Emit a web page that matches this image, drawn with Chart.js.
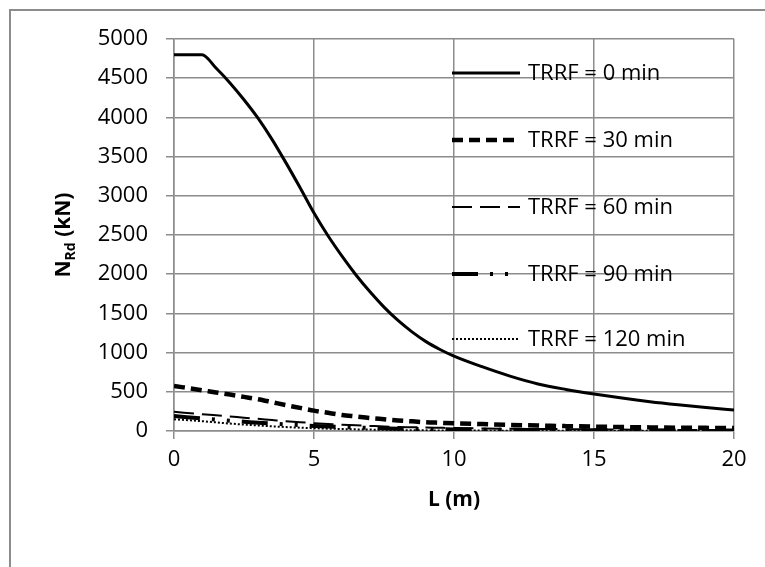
<!DOCTYPE html>
<html>
<head>
<meta charset="utf-8">
<script src="https://cdn.jsdelivr.net/npm/chart.js@4"></script>
<style>
  body { margin: 0; background: #fff; }
  #wrap { position: relative; width: 765px; height: 567px; overflow: hidden; }
  #frame { position: absolute; left: 9px; top: 9px; width: 900px; height: 700px;
           border-left: 2px solid #8c8c8c; border-top: 2px solid #8c8c8c; }
  canvas { position: absolute; left: 0; top: 0; }
</style>
</head>
<body>
<div id="wrap">
  <div id="frame"></div>
  <canvas id="chart" width="765" height="567"></canvas>
</div>
<script>
// column length L (m)
const lengths = [0, 1, 1.5, 2, 2.5, 3, 3.5, 4, 4.5, 5, 5.5, 6, 6.5, 7, 7.5, 8, 8.5, 9, 9.5, 10,
                 11, 12, 13, 14, 15, 16, 17, 18, 19, 20];

// N_Rd (kN) for each fire resistance time
const trrf0   = [4800, 4800, 4630, 4440, 4225, 3990, 3720, 3420, 3105, 2780, 2490, 2230, 1990, 1775, 1580, 1410, 1265, 1140, 1040, 955,
                 820, 700, 600, 530, 472, 420, 374, 335, 300, 268];
const trrf30  = [575, 520, 492, 465, 435, 405, 368, 330, 295, 260, 232, 205, 185, 165, 150, 135, 123, 112, 105, 98,
                 88, 78, 70, 62, 56, 50, 46, 42, 40, 38];
const trrf60  = [245, 215, 200, 185, 170, 155, 140, 125, 112, 100, 90, 80, 72, 65, 58, 52, 48, 44, 41, 38,
                 33, 29, 26, 23, 20, 18, 16, 14, 13, 12];
const trrf90  = [190, 160, 145, 130, 118, 105, 95, 85, 75, 65, 57, 50, 45, 40, 35, 30, 27, 24, 22, 20,
                 17, 15, 13, 11, 10, 8, 7, 6, 5, 5];
const trrf120 = [150, 125, 110, 95, 82, 70, 60, 50, 42, 35, 30, 25, 21, 18, 15, 12, 10, 8, 7, 6,
                 5, 4, 3, 3, 2, 2, 2, 1, 1, 1];

const seriesLabels = ['TRRF = 0 min', 'TRRF = 30 min', 'TRRF = 60 min', 'TRRF = 90 min', 'TRRF = 120 min'];
const seriesValues = [trrf0, trrf30, trrf60, trrf90, trrf120];
const seriesStyles = [
  { width: 3, dash: [] },
  { width: 4.5, dash: [11, 6] },
  { width: 2, dash: [20, 8] },
  { width: 4, dash: [26, 12, 3, 12, 3, 12] },
  { width: 2, dash: [2, 2] }
];

const FONT = '"Open Sans", "Liberation Sans", sans-serif';
const GRID = '#8c8c8c';

const datasets = seriesValues.map((vals, i) => ({
  label: seriesLabels[i],
  data: lengths.map((x, j) => ({ x: x, y: vals[j] })),
  borderColor: '#000',
  borderWidth: seriesStyles[i].width,
  borderDash: seriesStyles[i].dash,
  borderCapStyle: 'butt',
  pointRadius: 0,
  cubicInterpolationMode: 'monotone',
  fill: false
}));

// legend drawn inside the plot area, plus the axis titles with subscript
const extras = {
  id: 'extras',
  afterDatasetsDraw(chart) {
    const ctx = chart.ctx;
    ctx.save();
    const ys = [73, 140, 207, 274, 339];
    chart.data.datasets.forEach((ds, i) => {
      const y = ys[i];
      ctx.beginPath();
      ctx.strokeStyle = '#000';
      ctx.lineWidth = ds.borderWidth;
      ctx.setLineDash(ds.borderDash);
      ctx.lineCap = 'butt';
      ctx.moveTo(452, y);
      ctx.lineTo(520, y);
      ctx.stroke();
      ctx.setLineDash([]);
      ctx.fillStyle = '#000';
      ctx.font = '22px ' + FONT;
      ctx.textBaseline = 'middle';
      ctx.textAlign = 'left';
      ctx.fillText(ds.label, 528, y + 1);
    });

    // x title
    ctx.font = 'bold 21px ' + FONT;
    ctx.textAlign = 'center';
    ctx.textBaseline = 'middle';
    ctx.fillText('L (m)', 454, 500);

    // y title N_Rd (kN)
    ctx.translate(62, 235);
    ctx.rotate(-Math.PI / 2);
    const big = 'bold 21px ' + FONT, small = 'bold 14px ' + FONT;
    ctx.font = big; const wN = ctx.measureText('N').width;
    ctx.font = small; const wRd = ctx.measureText('Rd').width;
    ctx.font = big; const wK = ctx.measureText(' (kN)').width;
    let x = -(wN + wRd + wK) / 2;
    ctx.textAlign = 'left';
    ctx.textBaseline = 'alphabetic';
    ctx.font = big; ctx.fillText('N', x, 8); x += wN;
    ctx.font = small; ctx.fillText('Rd', x, 13); x += wRd;
    ctx.font = big; ctx.fillText(' (kN)', x, 8);
    ctx.restore();
  }
};

new Chart(document.getElementById('chart'), {
  type: 'line',
  data: { datasets: datasets },
  options: {
    responsive: false,
    animation: false,
    layout: { padding: { left: 0, right: 31, top: 39, bottom: 0 } },
    plugins: { legend: { display: false }, tooltip: { enabled: false } },
    scales: {
      x: {
        type: 'linear',
        min: 0, max: 20,
        afterFit: s => { s.height = 136; },
        ticks: { stepSize: 5, color: '#000', font: { family: FONT, size: 22 }, padding: 8,
                 callback: v => String(v) },
        grid: { color: GRID, lineWidth: 1.5, tickLength: 8 },
        border: { color: GRID, width: 1.5 }
      },
      y: {
        min: 0, max: 5000,
        afterFit: s => { s.width = 174; },
        ticks: { stepSize: 500, color: '#000', font: { family: FONT, size: 22 }, padding: 18,
                 callback: v => String(v) },
        grid: { color: GRID, lineWidth: 1.5, tickLength: 8 },
        border: { color: GRID, width: 1.5 }
      }
    }
  },
  plugins: [extras]
});
</script>
</body>
</html>
